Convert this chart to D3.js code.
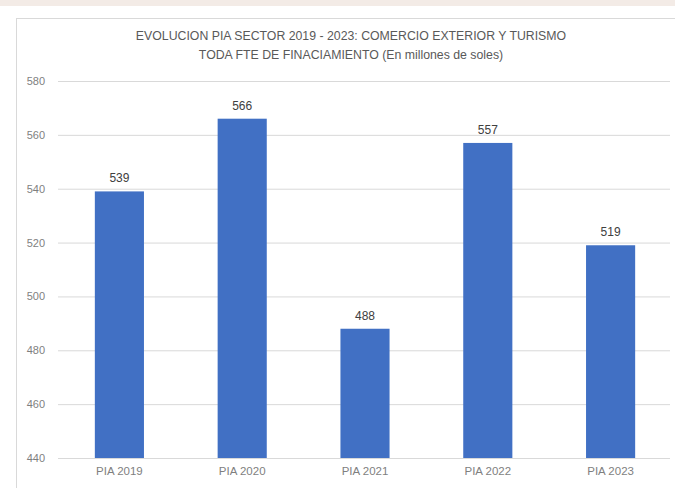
<!DOCTYPE html>
<html>
<head>
<meta charset="utf-8">
<script src="https://cdn.jsdelivr.net/npm/d3@7/dist/d3.min.js"></script>
<style>
  body { margin: 0; background: #fff; }
  svg { display: block; font-family: "Liberation Sans", Arial, sans-serif; }
</style>
</head>
<body>
<svg id="chart" width="675" height="488"></svg>
<script>
// data
const categories = ["PIA 2019", "PIA 2020", "PIA 2021", "PIA 2022", "PIA 2023"];
const values = [539, 566, 488, 557, 519];
const yTicks = [440, 460, 480, 500, 520, 540, 560, 580];
const titleLines = [
  "EVOLUCION PIA SECTOR 2019 - 2023: COMERCIO EXTERIOR Y TURISMO",
  "TODA FTE DE FINACIAMIENTO (En millones de soles)"
];

const svg = d3.select("#chart");
const margin = {top: 81, right: 3, bottom: 30, left: 58};
const width = +svg.attr("width") - margin.left - margin.right;
const height = +svg.attr("height") - margin.top - margin.bottom;

// faint strip of the page above the chart
svg.append("rect")
  .attr("x", 0).attr("y", 0)
  .attr("width", 675).attr("height", 6)
  .attr("fill", "#f3ebe6");

// chart frame
svg.append("rect")
  .attr("x", 16.5).attr("y", 18.5)
  .attr("width", 700).attr("height", 520)
  .attr("fill", "#fff")
  .attr("stroke", "#d9d9d9");

// title
svg.append("g")
  .selectAll("text")
  .data(titleLines)
  .enter().append("text")
  .attr("x", 351)
  .attr("y", (d, i) => 40 + i * 19)
  .attr("text-anchor", "middle")
  .attr("font-size", "12.3px")
  .attr("fill", "#595959")
  .text(d => d);

const g = svg.append("g")
  .attr("transform", `translate(${margin.left},${margin.top})`);

const x = d3.scaleBand()
  .domain(categories)
  .range([0, width])
  .paddingInner(0.6)
  .paddingOuter(0.3);

const y = d3.scaleLinear()
  .domain([440, 580])
  .range([height, 0]);

// gridlines
g.append("g")
  .selectAll("line")
  .data(yTicks)
  .enter().append("line")
  .attr("x1", 0)
  .attr("x2", width - 2)
  .attr("y1", d => y(d) + 0.5)
  .attr("y2", d => y(d) + 0.5)
  .attr("stroke", "#d9d9d9")
  .attr("stroke-width", 1);

// y axis labels
const yAxis = g.append("g")
  .call(d3.axisLeft(y).tickValues(yTicks).tickSize(0).tickPadding(13));
yAxis.select(".domain").remove();
yAxis.selectAll("text")
  .attr("font-family", "Liberation Sans, Arial, sans-serif")
  .attr("font-size", "11px")
  .attr("fill", "#7f7f7f");

// x axis labels
const xAxis = g.append("g")
  .attr("transform", `translate(0,${height})`)
  .call(d3.axisBottom(x).tickSize(0).tickPadding(9));
xAxis.select(".domain").remove();
xAxis.selectAll("text")
  .attr("font-family", "Liberation Sans, Arial, sans-serif")
  .attr("font-size", "11.5px")
  .attr("fill", "#7f7f7f");

// bars
g.selectAll(".bar")
  .data(values)
  .enter().append("rect")
  .attr("class", "bar")
  .attr("x", (d, i) => x(categories[i]))
  .attr("y", d => y(d))
  .attr("width", x.bandwidth())
  .attr("height", d => height - y(d))
  .attr("fill", "#4170c4");

// value labels
g.selectAll(".label")
  .data(values)
  .enter().append("text")
  .attr("class", "label")
  .attr("x", (d, i) => x(categories[i]) + x.bandwidth() / 2)
  .attr("y", d => y(d) - 9)
  .attr("text-anchor", "middle")
  .attr("font-size", "12px")
  .attr("fill", "#404040")
  .text(d => d);
</script>
</body>
</html>
